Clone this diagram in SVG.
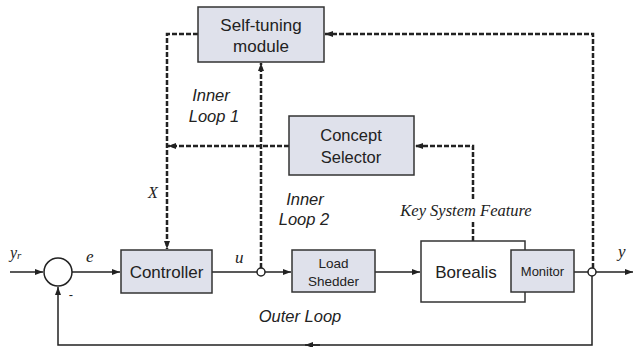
<svg xmlns="http://www.w3.org/2000/svg" width="634" height="347" viewBox="0 0 634 347">
<defs>
<marker id="ah" viewBox="0 0 8 6" refX="8" refY="3" markerWidth="8" markerHeight="6" markerUnits="userSpaceOnUse" orient="auto">
<path d="M0,0 L8,3 L0,6 Z" fill="#222"/>
</marker>
<style>
.box{fill:#dfe1eb;stroke:#333;stroke-width:1.5}
.wbox{fill:#fff;stroke:#333;stroke-width:1.5}
.ln{fill:none;stroke:#222;stroke-width:1.5}
.dl{fill:none;stroke:#222;stroke-width:2.5;stroke-dasharray:5 2}
.t{font-family:"Liberation Sans",Arial,sans-serif;fill:#222;text-anchor:middle}
.it{font-family:"Liberation Sans",Arial,sans-serif;font-style:italic;fill:#222;text-anchor:middle;font-size:16.5px}
.m{font-family:"Liberation Serif","Times New Roman",serif;font-style:italic;fill:#222}
</style>
</defs>
<rect width="634" height="347" fill="#fff"/>
<g id="connectors">
<path class="ln" d="M10,272 H43" marker-end="url(#ah)"/>
<path class="ln" d="M72,272 H120" marker-end="url(#ah)"/>
<path class="ln" d="M212,272 H257"/>
<path class="ln" d="M265,272 H291" marker-end="url(#ah)"/>
<path class="ln" d="M375,272 H420" marker-end="url(#ah)"/>
<path class="ln" d="M574,272 H588"/>
<path class="ln" d="M596,272 H633" marker-end="url(#ah)"/>
<path class="ln" d="M592,276 V345 H58 V287" marker-end="url(#ah)"/>
<path class="ln" d="M320,345 H305" marker-end="url(#ah)"/>
<path class="dl" d="M261,268 V63" marker-end="url(#ah)"/>
<path class="dl" d="M593,268 V34 H325" marker-end="url(#ah)"/>
<path class="dl" d="M198,34 H167 V249" marker-end="url(#ah)"/>
<path class="dl" d="M289,146 H168" marker-end="url(#ah)"/>
<path class="dl" d="M473,241 V222"/>
<path class="dl" d="M473,199 V146 H415" marker-end="url(#ah)"/>
</g>
<g id="sum">
<circle cx="58" cy="272" r="14" fill="#fff" stroke="#222" stroke-width="1.5"/>
</g>
<g id="junction-u"><circle cx="261" cy="272" r="4" fill="#fff" stroke="#222" stroke-width="1.5"/></g>
<g id="junction-y"><circle cx="592" cy="272" r="4" fill="#fff" stroke="#222" stroke-width="1.5"/></g>
<g id="self-tuning">
<rect class="box" x="198" y="7" width="126" height="55"/>
<text class="t" x="261" y="31" font-size="17">Self-tuning</text>
<text class="t" x="261" y="52" font-size="17">module</text>
</g>
<g id="concept-selector">
<rect class="box" x="289" y="116" width="125" height="59"/>
<text class="t" x="351" y="141" font-size="16.5">Concept</text>
<text class="t" x="351" y="163" font-size="16.5">Selector</text>
</g>
<g id="controller">
<rect class="box" x="121" y="250" width="91" height="43"/>
<text class="t" x="166.5" y="278" font-size="17">Controller</text>
</g>
<g id="load-shedder">
<rect class="box" x="292" y="250" width="83" height="42"/>
<text class="t" x="333.5" y="268" font-size="13.5">Load</text>
<text class="t" x="333.5" y="286" font-size="13.5">Shedder</text>
</g>
<g id="borealis">
<rect class="wbox" x="421" y="241" width="104" height="61"/>
<text class="t" x="466" y="278" font-size="17">Borealis</text>
</g>
<g id="monitor">
<rect class="box" x="511" y="250" width="63" height="42"/>
<text class="t" x="542.5" y="276" font-size="13">Monitor</text>
</g>
<g id="labels">
<text class="m" x="10" y="258" font-size="16">y<tspan font-size="11" dy="1">r</tspan></text>
<text class="m" x="86" y="262" font-size="17">e</text>
<text class="m" x="235" y="263" font-size="17">u</text>
<text class="m" x="618" y="257" font-size="17">y</text>
<text class="m" x="148" y="198" font-size="16">X</text>
<text class="t" x="71" y="299" font-size="13">-</text>
<text class="it" x="211" y="101">Inner</text>
<text class="it" x="214" y="122">Loop 1</text>
<text class="it" x="305" y="205">Inner</text>
<text class="it" x="304" y="225">Loop 2</text>
<text class="it" x="300" y="322">Outer Loop</text>
<text class="m" x="466" y="216" font-size="16.5" text-anchor="middle">Key System Feature</text>
</g>
</svg>
